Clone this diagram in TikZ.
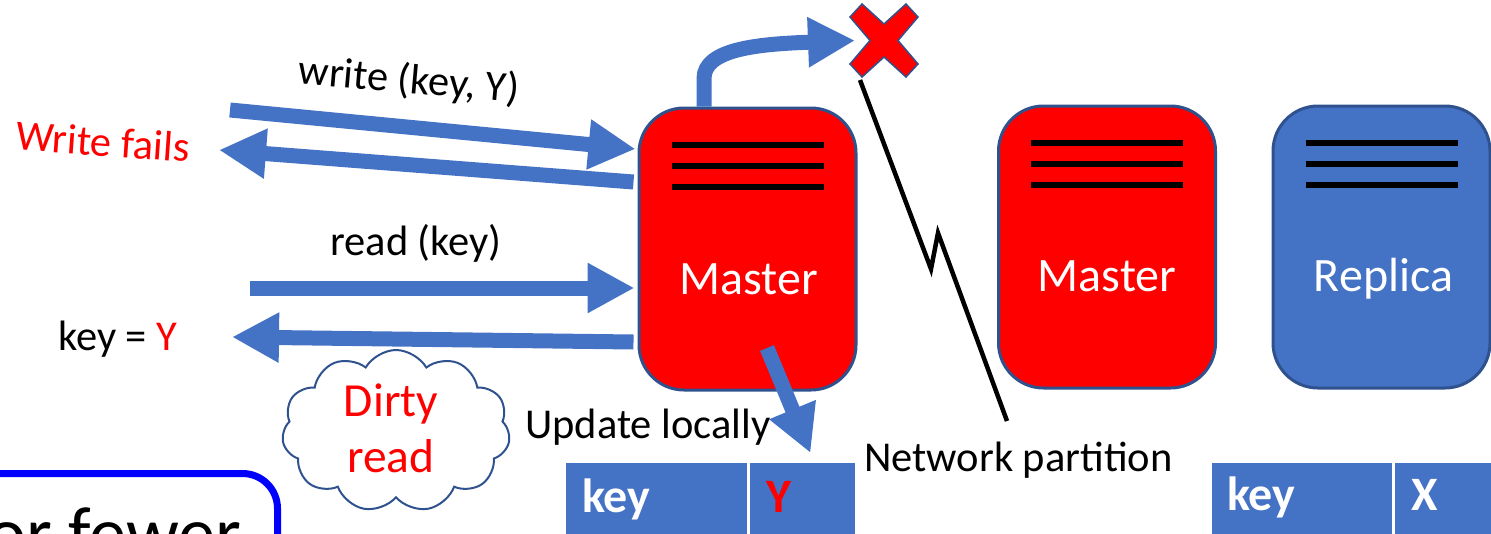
\documentclass[tikz,border=0pt]{standalone}
\usepackage{fontspec}
\setmainfont{Carlito}
\usetikzlibrary{arrows.meta,shapes.symbols}

\definecolor{accblue}{HTML}{4472C4}
\definecolor{edgeblue}{HTML}{2F528F}
\definecolor{noteblue}{HTML}{0000FF}

\tikzset{
  server/.style={draw=edgeblue, line width=3pt, rounded corners=45pt,
    minimum width=217pt, minimum height=282pt, inner sep=0pt},
  stripe/.style={line width=6pt},
  srvlbl/.style={inner sep=0pt, anchor=base, text=white, font=\fontsize{48}{57}\selectfont},
  msg/.style={draw=accblue, line width=15pt, -{Triangle[length=47pt,width=47pt]}},
  lbl/.style={inner sep=0pt, font=\fontsize{42.5}{51}\selectfont},
  cell/.style={fill=accblue, draw=white, line width=3pt, anchor=north west,
    minimum height=120pt, inner sep=0pt},
  celltxt/.style={inner sep=0pt, anchor=base west, font=\fontsize{48}{57}\selectfont\bfseries},
}

\begin{document}
\begin{tikzpicture}[x=1pt, y=-1pt]
  \useasboundingbox (0,0) rectangle (1491,533);
  \clip (0,0) rectangle (1491,533);

  % servers
  \node[server, fill=red] (m1) at (747.5,249) {};
  \node[server, fill=red] (m2) at (1107,247) {};
  \node[server, fill=accblue] (rep) at (1381.5,247) {};
  \foreach \s in {m1,m2,rep}
    \foreach \dy in {-104,-83,-62}
      \draw[stripe] ([shift={(-76,\dy)}]\s.center) -- ([shift={(76,\dy)}]\s.center);
  \node[srvlbl] at ([shift={(1,45)}]m1.center) {Master};
  \node[srvlbl] at ([shift={(0,44)}]m2.center) {Master};
  \node[srvlbl] at ([shift={(2,44)}]rep.center) {Replica};

  % tables
  \node[cell, minimum width=184pt] (tk1) at (563,460) {};
  \node[cell, minimum width=108pt] (tv1) at (747,460) {};
  \node[cell, minimum width=183pt] (tk2) at (1209,460) {};
  \node[cell, minimum width=110pt] (tv2) at (1392,460) {};
  \node[celltxt, text=white] at ([shift={(19,52)}]tk1.north west) {key};
  \node[celltxt, text=red] at ([shift={(19,52)}]tv1.north west) {Y};
  \node[celltxt, text=white] at ([shift={(18,50)}]tk2.north west) {key};
  \node[celltxt, text=white] at ([shift={(19,50)}]tv2.north west) {X};

  % client requests
  \coordinate (wr) at (230,110);
  \coordinate (wf) at (219,150);
  \coordinate (rd) at (250,288);
  \coordinate (ky) at (232,337);
  \draw[msg] (wr) -- ([shift={(-2,-100)}]m1.west);
  \draw[msg] ([shift={(-4,-67)}]m1.west) -- (wf);
  \draw[msg] (rd) -- ([shift={(-3,39)}]m1.west);
  \draw[msg] ([shift={(-4,93)}]m1.west) -- (ky);

  \node[lbl, anchor=base, rotate=-5] (wlbl) at (408,93) {write (key, Y)};
  \node[lbl, anchor=base, rotate=-4, text=red] (fail) at (102,156) {Write fails};
  \node[lbl, anchor=base] (rlbl) at (416,255) {read (key)};
  \node[lbl, anchor=base west] (val) at (58,350) {key = \textcolor{red}{Y}};

  % replication attempt
  \coordinate (cross) at (884,40.5);
  \draw[msg] ([shift={(-43.5,0)}]m1.north) -- ++(0,-28) .. controls +(0,-30) and (760,44) .. ([shift={(-29,0)}]cross);
  \draw[edgeblue, fill=red, line width=1.5pt, shift={(884,40.5)}]
    (-34,-23.5) -- (-22,-36.5) -- (0,-16.5) -- (22,-36.5) -- (34,-23.5) -- (14,0)
    -- (34,23.5) -- (22,36.5) -- (0,16.5) -- (-22,36.5) -- (-34,23.5) -- (-14,0) -- cycle;

  % partition
  \draw[line width=4.5pt] (860,80) -- (931,269) -- (938,233) -- (1007,421);
  \node[lbl, anchor=base west] (part) at (864,471) {Network partition};

  % local update
  \draw[msg] ([shift={(19.5,99)}]m1.center) -- ([shift={(8,-7)}]tv1.north);
  \node[lbl, anchor=base west] (upd) at (525,438) {Update locally};

  % dirty read
  \node[cloud, cloud puffs=11, cloud puff arc=120, cloud ignores aspect, draw=edgeblue,
    line width=2pt, minimum width=228pt, minimum height=162pt, inner sep=0pt] (dirty) at (396,431) {};
  \node[inner sep=0pt, text=red, align=center, font=\fontsize{47.5}{56}\selectfont] at (391,428) {Dirty\\read};

  % note box
  \node[draw=noteblue, line width=7pt, rounded corners=35pt, anchor=north east,
    minimum width=360pt, minimum height=160pt] (note) at (281,470) {};
  \node[inner sep=0pt, anchor=base west, font=\fontsize{74}{89}\selectfont] (notetxt) at (-13,558) {or fewer};

\end{tikzpicture}
\end{document}
